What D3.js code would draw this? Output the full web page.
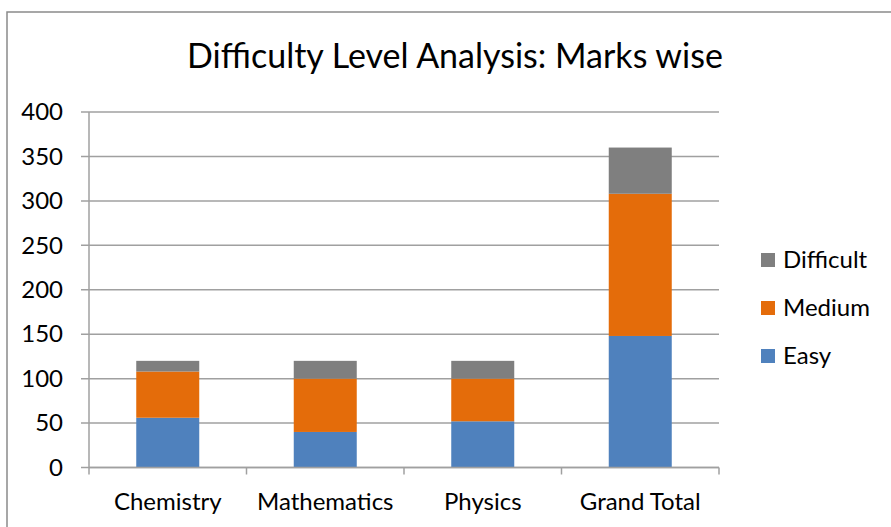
<!DOCTYPE html>
<head>
  <meta charset="utf-8">
  <script src="https://d3js.org/d3.v7.min.js"></script>
  <style>
    body { margin:0; background:#fff; }
    text { font-family: Lato, "Noto Sans", sans-serif; fill:#000; }
  </style>
</head>

<body>
  <div id="chart"></div>
  <script>
    // chart values
    var subjects = ["Chemistry", "Mathematics", "Physics", "Grand Total"];
    var easy = [56, 40, 52, 148];
    var medium = [52, 60, 48, 160];
    var difficult = [12, 20, 20, 52];
    var yTicks = [0, 50, 100, 150, 200, 250, 300, 350, 400];
    var seriesNames = ["Easy", "Medium", "Difficult"];
    var seriesColors = ["#4F81BD", "#E46C0A", "#7F7F7F"];

    var width = 891, height = 527;
    var plot = {left: 89, right: 719, top: 112, bottom: 467.5};

    var svg = d3.select("#chart").append("svg")
      .attr("width", width)
      .attr("height", height)

    // outer chart border
    svg.append("rect")
      .attr("x", 7).attr("y", 12)
      .attr("width", width).attr("height", height)
      .style("fill", "none")
      .style("stroke", "#8a8a8a")
      .style("stroke-width", 1.5)

    svg.append("text")
      .attr("x", 455).attr("y", 68)
      .attr("text-anchor", "middle")
      .style("font-size", "34px")
      .text("Difficulty Level Analysis: Marks wise")

    var y = d3.scaleLinear()
        .domain([0, 400])
        .range([plot.bottom, plot.top])

    var x = d3.scaleBand()
        .domain(subjects)
        .range([plot.left, plot.right])
        .paddingInner(0.6)
        .paddingOuter(0.3)

    // band scale without padding, used for the category tick marks
    var xCell = d3.scaleBand()
        .domain(subjects)
        .range([plot.left, plot.right])

    // gridlines
    svg.append("g").selectAll("line").data(yTicks).enter()
      .append("line")
      .attr("x1", plot.left - 8).attr("x2", plot.right)
      .attr("y1", function(d) { return y(d); })
      .attr("y2", function(d) { return y(d); })
      .style("stroke", "#a0a0a0")
      .style("stroke-width", 1.5)

    // stacked bars
    var rows = subjects.map(function(s, i) {
      return {subject: s, Easy: easy[i], Medium: medium[i], Difficult: difficult[i]};
    });
    var stack = d3.stack().keys(seriesNames)(rows);

    svg.append("g").selectAll("g").data(stack).enter()
      .append("g")
      .style("fill", function(d, i) { return seriesColors[i]; })
      .selectAll("rect").data(function(d) { return d; }).enter()
      .append("rect")
      .attr("x", function(d) { return x(d.data.subject); })
      .attr("width", x.bandwidth())
      .attr("y", function(d) { return y(d[1]); })
      .attr("height", function(d) { return y(d[0]) - y(d[1]); })

    // y axis line + labels
    var yAxis = svg.append("g")
      .attr("transform", "translate(" + plot.left + ",0)")
      .call(d3.axisLeft(y).tickValues(yTicks).tickSize(0).tickPadding(26))
    yAxis.select(".domain").remove()
    yAxis.selectAll("text").style("font-size", "24px").style("font-family", "Lato, sans-serif")

    svg.append("line")
      .attr("x1", plot.left).attr("x2", plot.left)
      .attr("y1", plot.top).attr("y2", plot.bottom + 7)
      .style("stroke", "#a0a0a0").style("stroke-width", 1.5)

    // x axis line, ticks at category boundaries, labels at centres
    svg.append("line")
      .attr("x1", plot.left).attr("x2", plot.right)
      .attr("y1", plot.bottom).attr("y2", plot.bottom)
      .style("stroke", "#a0a0a0").style("stroke-width", 1.5)

    svg.append("g").selectAll("line").data(subjects).enter()
      .append("line")
      .attr("x1", function(d) { return xCell(d) + xCell.bandwidth(); })
      .attr("x2", function(d) { return xCell(d) + xCell.bandwidth(); })
      .attr("y1", plot.bottom).attr("y2", plot.bottom + 7)
      .style("stroke", "#a0a0a0").style("stroke-width", 1.5)

    svg.append("g").selectAll("text").data(subjects).enter()
      .append("text")
      .attr("x", function(d) { return x(d) + x.bandwidth() / 2; })
      .attr("y", 510)
      .attr("text-anchor", "middle")
      .style("font-size", "24px")
      .text(function(d) { return d; })

    // legend, Difficult on top
    var legendOrder = [2, 1, 0];
    var legend = svg.append("g").selectAll("g").data(legendOrder).enter()
      .append("g")
      .attr("transform", function(d, i) { return "translate(761," + (260 + i * 48) + ")"; })

    legend.append("rect")
      .attr("x", 0).attr("y", -7)
      .attr("width", 14).attr("height", 14)
      .style("fill", function(d) { return seriesColors[d]; })

    legend.append("text")
      .attr("x", 22).attr("y", 8)
      .style("font-size", "24px")
      .text(function(d) { return seriesNames[d]; })
  </script>
</body>
